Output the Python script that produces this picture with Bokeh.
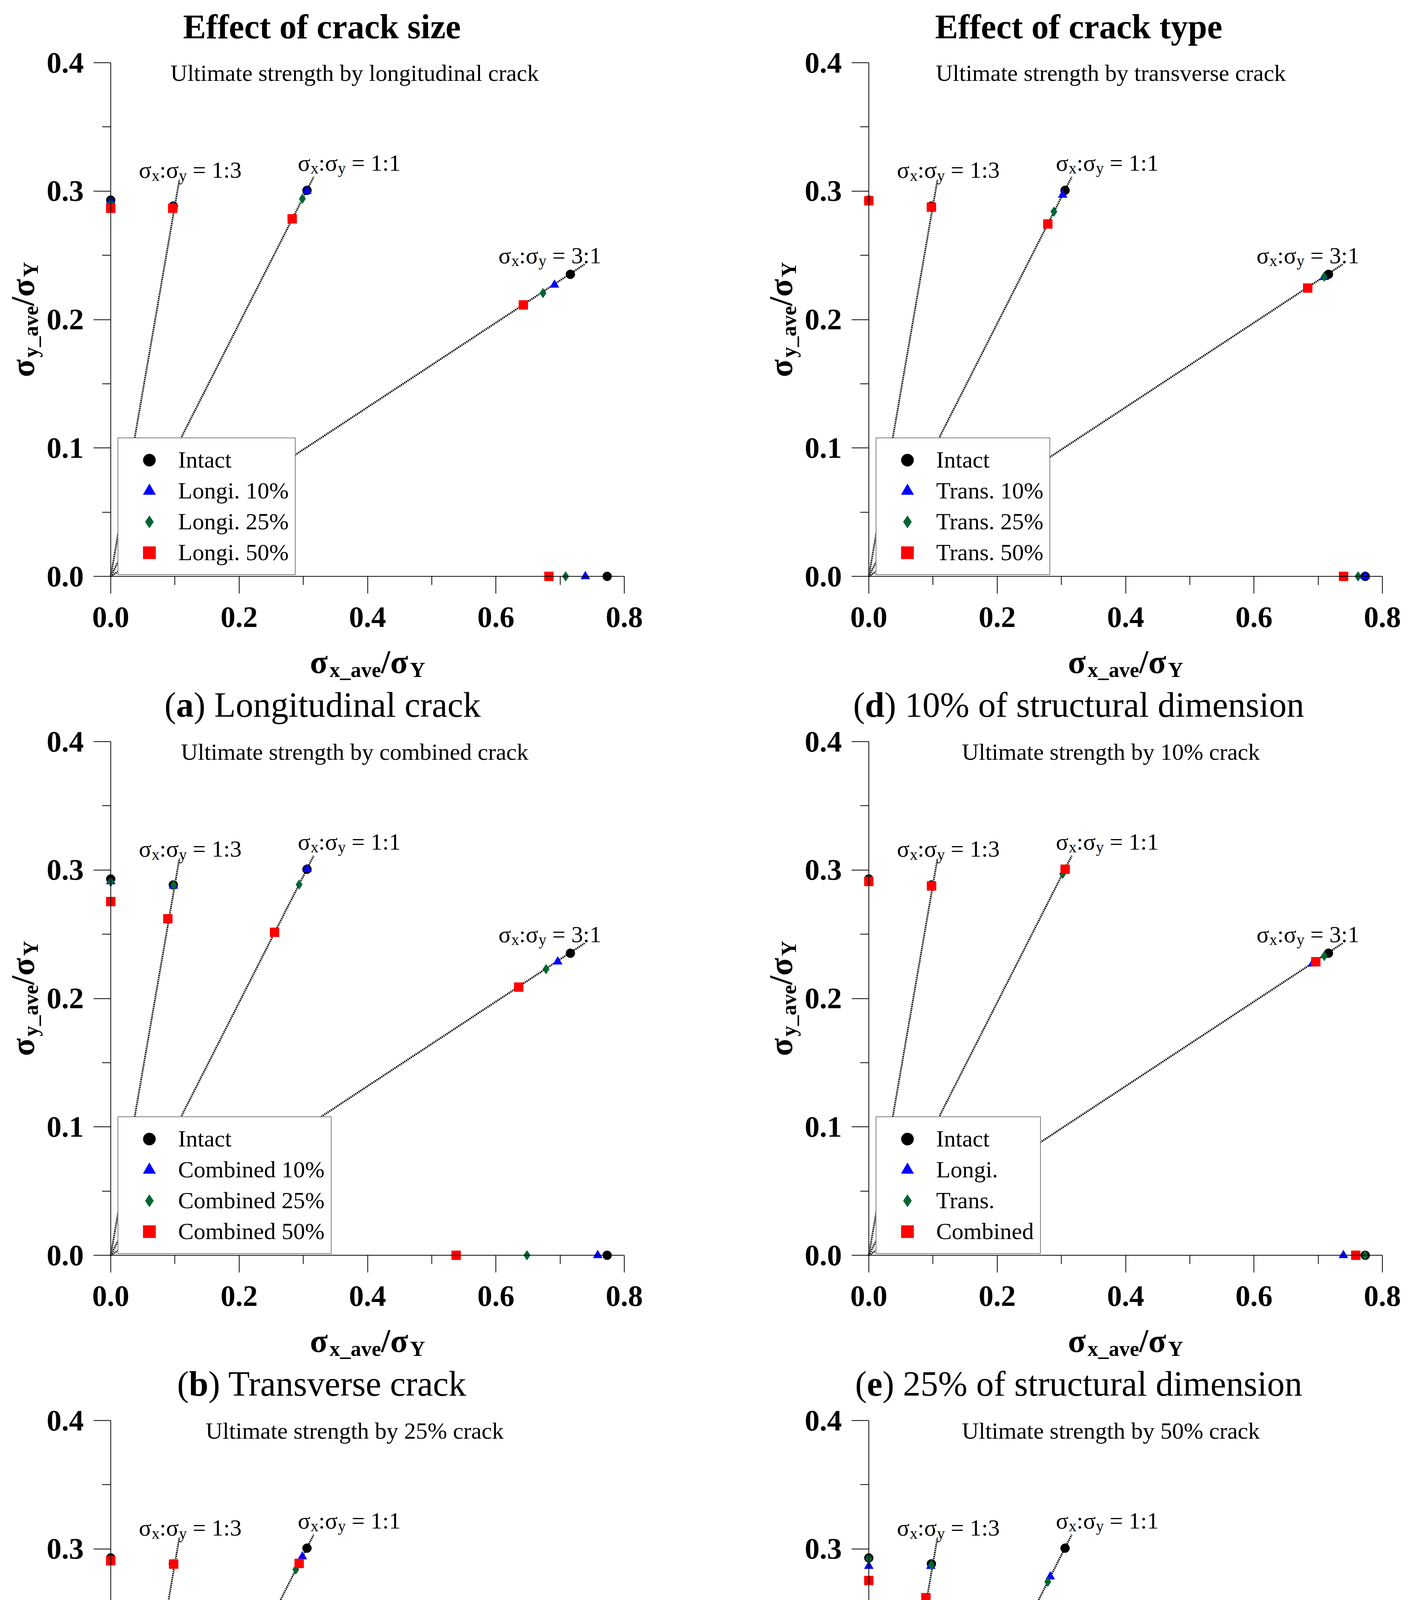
import math
from bokeh.plotting import figure
from bokeh.models import Range1d, LinearAxis, FixedTicker, PrintfTickFormatter, Label, Legend, LegendItem
from bokeh.layouts import column, row
from bokeh.embed import file_html
from bokeh.resources import INLINE

# ---------------- data ----------------
# load cases sigma_x : sigma_y  ->  0:1, 1:3, 1:1, 3:1, 1:0
load_cases = ["0:1", "1:3", "1:1", "3:1", "1:0"]
intact_x = [0.0, 0.0975, 0.3057, 0.7160, 0.7733]
intact_y = [0.2930, 0.2884, 0.3006, 0.2352, 0.0]
longi10_x = [0.0, 0.0975, 0.3056, 0.6912, 0.7393]
longi10_y = [0.2920, 0.2880, 0.3000, 0.2270, 0.0]
longi25_x = [0.0, 0.0975, 0.2985, 0.6733, 0.7086]
longi25_y = [0.2900, 0.2877, 0.2940, 0.2206, 0.0]
longi50_x = [0.0, 0.0966, 0.2827, 0.6427, 0.6826]
longi50_y = [0.2866, 0.2866, 0.2784, 0.2114, 0.0]
trans10_x = [0.0, 0.0975, 0.3020, 0.7095, 0.7730]
trans10_y = [0.2925, 0.2877, 0.2970, 0.2330, 0.0]
trans25_x = [0.0, 0.0975, 0.2883, 0.7093, 0.7622]
trans25_y = [0.2925, 0.2877, 0.2840, 0.2333, 0.0]
trans50_x = [0.0, 0.0975, 0.2788, 0.6837, 0.7396]
trans50_y = [0.2925, 0.2875, 0.2744, 0.2245, 0.0]
comb10_x = [0.0, 0.0978, 0.3059, 0.6962, 0.7586]
comb10_y = [0.2911, 0.2876, 0.3006, 0.2286, 0.0]
comb25_x = [0.0, 0.0980, 0.2935, 0.6781, 0.6484]
comb25_y = [0.2908, 0.2882, 0.2887, 0.2228, 0.0]
comb50_x = [0.0, 0.0889, 0.2552, 0.6355, 0.5380]
comb50_y = [0.2754, 0.2620, 0.2515, 0.2088, 0.0]

ratio_labels = ["1:3", "1:1", "3:1"]
ratio_start_x = [0.0, 0.0, 0.0]
ratio_start_y = [0.0, 0.0, 0.0]
ratio_end_x = [0.107, 0.316, 0.738]
ratio_end_y = [0.309, 0.311, 0.243]
ratio_text_x = [0.0438, 0.2914, 0.604]
ratio_text_y = [0.3165, 0.3220, 0.2499]

x_ticks = [0.0, 0.2, 0.4, 0.6, 0.8]
x_minor = [0.1, 0.3, 0.5, 0.7]
y_ticks = [0.0, 0.1, 0.2, 0.3, 0.4]
y_minor = [0.05, 0.15, 0.25, 0.35]

headers = ["Effect of crack size", "Effect of crack type"]

panels = [
    dict(sub="Ultimate strength by longitudinal crack", cap=("a", "Longitudinal crack"),
         names=["Intact", "Longi. 10%", "Longi. 25%", "Longi. 50%"],
         xs=[intact_x, longi10_x, longi25_x, longi50_x], ys=[intact_y, longi10_y, longi25_y, longi50_y]),
    dict(sub="Ultimate strength by transverse crack", cap=("d", "10% of structural dimension"),
         names=["Intact", "Trans. 10%", "Trans. 25%", "Trans. 50%"],
         xs=[intact_x, trans10_x, trans25_x, trans50_x], ys=[intact_y, trans10_y, trans25_y, trans50_y]),
    dict(sub="Ultimate strength by combined crack", cap=("b", "Transverse crack"),
         names=["Intact", "Combined 10%", "Combined 25%", "Combined 50%"],
         xs=[intact_x, comb10_x, comb25_x, comb50_x], ys=[intact_y, comb10_y, comb25_y, comb50_y]),
    dict(sub="Ultimate strength by 10% crack", cap=("e", "25% of structural dimension"),
         names=["Intact", "Longi.", "Trans.", "Combined"],
         xs=[intact_x, longi10_x, trans10_x, comb10_x], ys=[intact_y, longi10_y, trans10_y, comb10_y]),
    dict(sub="Ultimate strength by 25% crack", cap=("c", "Combined crack"),
         names=["Intact", "Longi.", "Trans.", "Combined"],
         xs=[intact_x, longi25_x, trans25_x, comb25_x], ys=[intact_y, longi25_y, trans25_y, comb25_y]),
    dict(sub="Ultimate strength by 50% crack", cap=("f", "50% of structural dimension"),
         names=["Intact", "Longi.", "Trans.", "Combined"],
         xs=[intact_x, longi50_x, trans50_x, comb50_x], ys=[intact_y, longi50_y, trans50_y, comb50_y]),
]

# ---------------- styles / geometry ----------------
FONT = "Liberation Serif"
MARKERS = [("circle", "#000000", 23), ("triangle", "#0000FF", 23),
           ("diamond", "#006633", 25), ("square", "#FF0000", 23)]
PPX = 1643.75   # px per x unit
PPY = 3287.5    # px per y unit

# x0 = pixel of x=0 from the figure's left edge; y0 = pixel of y=0 from figure's bottom edge
COLS = [dict(w=1800, x0=283, hx=0.329, cx=0.330, sx=0.380),
        dict(w=1800, x0=424, hx=0.327, cx=0.327, sx=0.377)]
ROWS = [dict(h=1854, y0=379), dict(h=1738, y0=379), dict(h=1738, y0=379)]

REG = {' ': .25, '(': .333, ')': .333, '%': .833, '.': .25, ':': .278, '=': .564, '/': .278, '_': .5,
       'a': .444, 'b': .5, 'c': .444, 'd': .5, 'e': .444, 'f': .333, 'g': .5, 'h': .5, 'i': .278,
       'k': .5, 'l': .278, 'm': .778, 'n': .5, 'o': .5, 'p': .5, 'r': .333, 's': .389, 't': .278,
       'u': .5, 'v': .5, 'x': .5, 'y': .5, 'z': .444, 'C': .667, 'I': .333, 'L': .611, 'T': .611,
       'U': .722, 'Y': .722, 'E': .611, 'σ': .55}
BOLD = {' ': .25, '(': .333, ')': .333, 'a': .5, 'b': .556, 'c': .444, 'd': .556, 'e': .444,
        'f': .333, 'k': .556, 'p': .556, 'r': .444, 's': .389, 't': .333, 'v': .5, 'x': .5,
        'y': .5, 'z': .444, 'i': .278, 'o': .5, 'E': .667, 'Y': .722, '/': .278, '_': .5,
        'σ': .6, '.': .25}


def tw(s, px, bold):
    d = BOLD if bold else REG
    return sum(d.get(c, 0.5) for c in s) * px


def rich(p, parts, x, y, dx=0.0, dy=0.0, anchor="left", angle=0.0):
    total = sum(tw(t, fs, b) for t, fs, b, sh in parts)
    adv = -total / 2 if anchor == "center" else 0.0
    for t, fs, b, sh in parts:
        stripped = t.lstrip(" ")
        lead = tw(t[:len(t) - len(stripped)], fs, b)
        a = adv + lead
        if angle == 0:
            xo, yo = dx + a, dy - sh
        else:
            xo, yo = dx + sh, dy + a
        p.add_layout(Label(x=x, y=y, x_offset=xo, y_offset=yo, text=stripped, angle=angle,
                           text_font=FONT, text_font_size=f"{fs}px",
                           text_font_style="bold" if b else "normal",
                           text_align="left", text_baseline="alphabetic", text_color="black"))
        adv += tw(t, fs, b)


def style_axis(ax, standoff):
    ax.axis_line_color = "black"
    ax.axis_line_width = 2
    ax.major_tick_line_width = 2
    ax.minor_tick_line_width = 2
    ax.major_tick_out = 44
    ax.major_tick_in = 0
    ax.minor_tick_out = 22
    ax.minor_tick_in = 0
    ax.major_label_text_font = FONT
    ax.major_label_text_font_style = "bold"
    ax.major_label_text_font_size = "76px"
    ax.major_label_text_color = "black"
    ax.major_label_standoff = standoff
    ax.axis_label = None


def make_panel(i):
    ci, ri = i % 2, i // 2
    c, r = COLS[ci], ROWS[ri]
    spec = panels[i]
    xr = Range1d(-c["x0"] / PPX, (c["w"] - c["x0"]) / PPX)
    yr = Range1d(-r["y0"] / PPY, (r["h"] - r["y0"]) / PPY)
    p = figure(width=c["w"], height=r["h"], x_range=xr, y_range=yr,
               x_axis_type=None, y_axis_type=None, output_backend="svg", toolbar_location=None,
               min_border_left=0, min_border_right=0, min_border_top=0, min_border_bottom=0)
    p.min_border = 0
    p.outline_line_color = None
    p.background_fill_color = "white"
    p.border_fill_color = "white"

    xaxis = LinearAxis(fixed_location=0.0, bounds=(0.0, 0.8),
                       ticker=FixedTicker(ticks=x_ticks, minor_ticks=x_minor),
                       formatter=PrintfTickFormatter(format="%.1f"))
    style_axis(xaxis, 35)
    p.add_layout(xaxis, "below")
    yaxis = LinearAxis(fixed_location=0.0, bounds=(0.0, 0.4),
                       ticker=FixedTicker(ticks=y_ticks, minor_ticks=y_minor),
                       formatter=PrintfTickFormatter(format="%.1f"))
    style_axis(yaxis, 25)
    p.add_layout(yaxis, "left")

    # ratio lines
    p.segment(x0=ratio_start_x, y0=ratio_start_y, x1=ratio_end_x, y1=ratio_end_y,
              line_color="black", line_width=4.5, line_dash="3 2")

    items = []
    for k, (name, xs, ys) in enumerate(zip(spec["names"], spec["xs"], spec["ys"])):
        mk, col, sz = MARKERS[k]
        rr = p.scatter(xs, ys, marker=mk, size=sz, fill_color=col, line_color=col, line_width=1)
        items.append(LegendItem(label=name, renderers=[rr]))

    legend = Legend(items=items, location=(c["x0"] + 18, r["y0"] + 3), margin=0,
                    padding=16, spacing=0, glyph_width=126, glyph_height=79, label_standoff=11,
                    label_text_font=FONT, label_text_font_size="60px", label_text_color="black",
                    border_line_color="black", border_line_width=2,
                    background_fill_color="white", background_fill_alpha=1.0)
    p.add_layout(legend)

    # ratio annotations
    for lab, tx, ty in zip(ratio_labels, ratio_text_x, ratio_text_y):
        rich(p, [("σ", 60, False, 0), ("x", 40, False, 14), (":σ", 60, False, 0),
                 ("y", 40, False, 14), (" = " + lab, 60, False, 0)], tx, ty)

    # subtitle inside the plotting area
    p.add_layout(Label(x=c["sx"], y=0.392, text=spec["sub"], text_font=FONT,
                       text_font_size="60px", text_align="center", text_baseline="alphabetic",
                       text_color="black"))

    # axis titles
    rich(p, [("σ", 84, True, 0), ("x_ave", 54, True, 20), ("/σ", 84, True, 0), ("Y", 54, True, 20)],
         0.4, 0.0, dy=-219, anchor="center")
    rich(p, [("σ", 84, True, 0), ("y_ave", 54, True, 20), ("/σ", 84, True, 0), ("Y", 54, True, 20)],
         0.0, 0.2, dx=-225, anchor="center", angle=math.pi / 2)

    # caption
    letter, text = spec["cap"]
    rich(p, [("(", 90, False, 0), (letter, 90, True, 0), (") " + text, 90, False, 0)],
         c["cx"], 0.0, dy=-329, anchor="center")

    if ri == 0:
        p.add_layout(Label(x=c["hx"], y=0.4, y_offset=92, text=headers[ci], text_font=FONT,
                           text_font_size="88px", text_font_style="bold", text_align="center",
                           text_baseline="alphabetic", text_color="black"))
    return p


figs = [make_panel(i) for i in range(6)]
layout = column(row(figs[0], figs[1]), row(figs[2], figs[3]), row(figs[4], figs[5]))
open("out.html", "w").write(file_html(layout, INLINE))
